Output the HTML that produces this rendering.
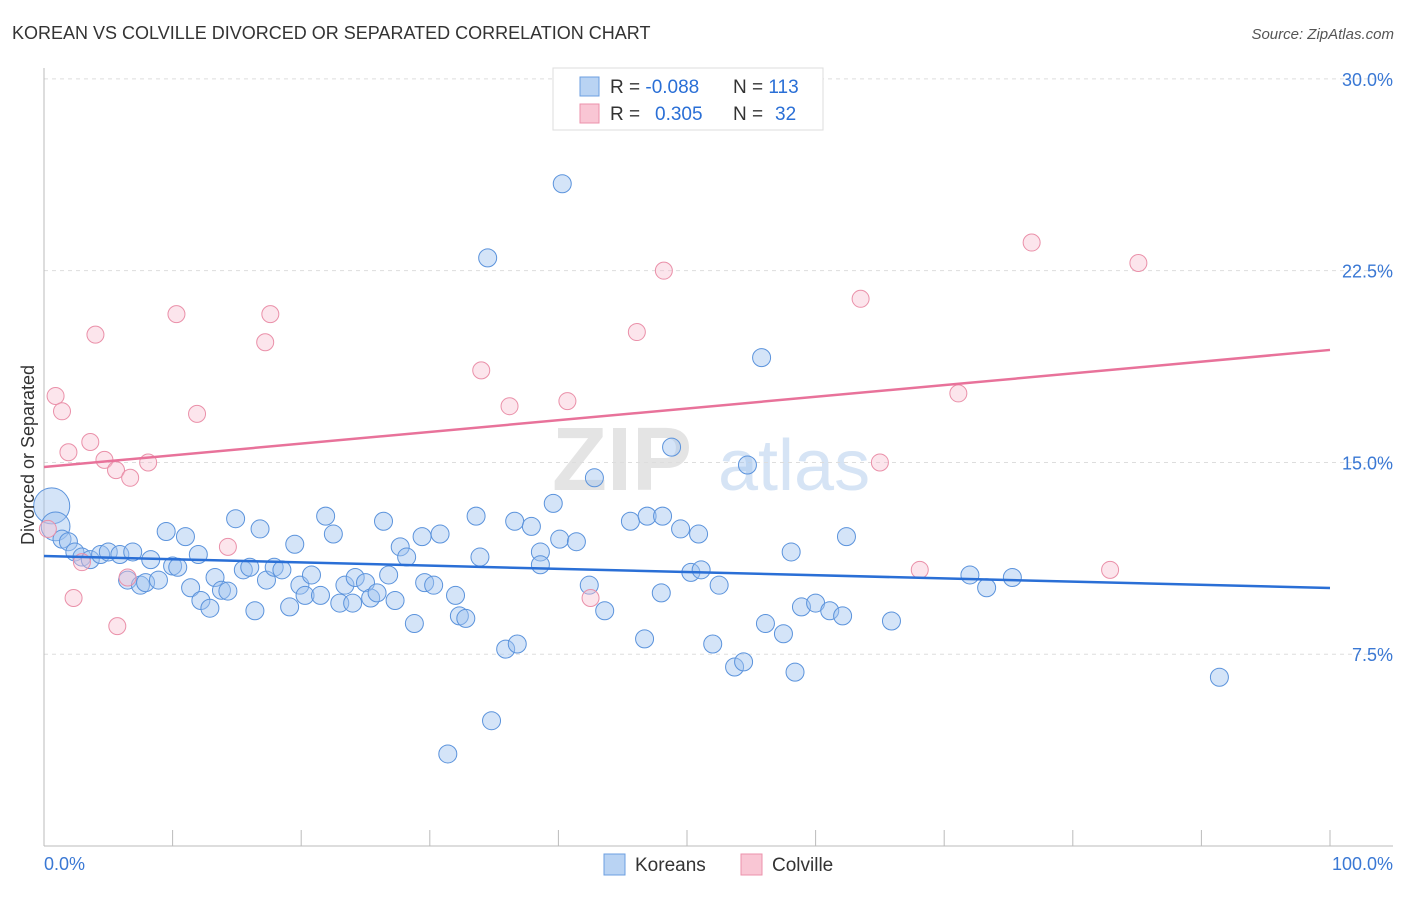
<!DOCTYPE html>
<html><head><meta charset="utf-8"><style>
body{margin:0;background:#fff;font-family:"Liberation Sans",sans-serif}
svg text{font-family:"Liberation Sans",sans-serif}
</style></head><body>
<svg id="chart" width="1406" height="892" viewBox="0 0 1406 892" xmlns="http://www.w3.org/2000/svg">
<text x="12" y="39" font-size="18" fill="#333">KOREAN VS COLVILLE DIVORCED OR SEPARATED CORRELATION CHART</text>
<text x="1394" y="39" font-size="15" fill="#555" font-style="italic" text-anchor="end">Source: ZipAtlas.com</text>
<g>
<text x="552" y="490" font-size="90" fill="#e4e4e4" font-family="Liberation Serif" font-weight="bold">ZIP</text>
<text x="718" y="490" font-size="72" fill="#d6e4f5">atlas</text>
</g>
<g id="grid"></g><g id="axes"></g><g id="marks"></g><g id="trends"></g>
<text transform="translate(34,455) rotate(-90)" font-size="18" fill="#333" text-anchor="middle">Divorced or Separated</text>
<text x="44" y="870" font-size="18" fill="#3a78d4">0.0%</text>
<text x="1393" y="870" font-size="18" fill="#3a78d4" text-anchor="end">100.0%</text>
<g>
<rect x="553" y="68" width="270" height="62" fill="#fff" stroke="#ddd"/>
<rect x="580" y="77" width="19" height="19" fill="#b9d3f3" stroke="#6c9fe0"/>
<rect x="580" y="104" width="19" height="19" fill="#f9c6d4" stroke="#ec92ab"/>
<text x="610" y="93" font-size="19" fill="#333">R = <tspan fill="#2a6fd6">-0.088</tspan><tspan x="733">N = </tspan><tspan fill="#2a6fd6">113</tspan></text>
<text x="610" y="120" font-size="19" fill="#333">R = <tspan x="655" fill="#2a6fd6">0.305</tspan><tspan x="733">N = </tspan><tspan x="775" fill="#2a6fd6">32</tspan></text>
</g>
<g>
<rect x="604" y="854" width="21" height="21" fill="#b9d3f3" stroke="#6c9fe0"/>
<text x="635" y="871" font-size="19" fill="#333">Koreans</text>
<rect x="741" y="854" width="21" height="21" fill="#f9c6d4" stroke="#ec92ab"/>
<text x="772" y="871" font-size="19" fill="#333">Colville</text>
</g>
</svg>
<script>
const yTicks=[7.5,15,22.5,30];
const yTickLabels=["7.5%","15.0%","22.5%","30.0%"];
const xTicks=[0,10,20,30,40,50,60,70,80,90,100];
const koreanX=[0.6,0.9,1.4,1.9,2.4,2.95,3.6,4.4,5.0,5.9,6.9,6.5,7.5,7.9,8.3,8.9,9.5,10.0,10.4,11.0,11.4,12.0,12.2,12.9,13.3,13.8,14.3,14.9,15.5,16.0,16.4,16.8,17.3,17.9,18.5,19.1,19.5,19.9,20.3,20.8,21.5,21.9,22.5,23.0,23.4,24.0,24.2,25.0,25.4,25.9,26.4,26.8,27.3,27.7,28.2,28.8,29.4,29.6,30.3,30.8,31.4,32.0,32.3,32.8,33.6,33.9,34.5,34.8,35.9,36.8,36.6,37.9,38.6,38.6,39.6,40.1,40.3,41.4,42.4,42.8,43.6,45.6,46.7,46.9,48.0,48.1,48.8,49.5,50.3,50.9,51.1,52.0,52.5,53.7,54.4,54.7,55.8,56.1,57.5,58.1,58.4,58.9,60.0,61.1,62.1,62.4,65.9,72.0,73.3,75.3,91.4];
const koreanY=[13.3,12.5,12.0,11.9,11.5,11.3,11.2,11.4,11.5,11.4,11.5,10.4,10.2,10.3,11.2,10.4,12.3,10.95,10.9,12.1,10.1,11.4,9.6,9.3,10.5,10.0,9.97,12.8,10.8,10.9,9.2,12.4,10.4,10.9,10.8,9.35,11.8,10.2,9.8,10.6,9.8,12.9,12.2,9.5,10.2,9.5,10.5,10.3,9.7,9.9,12.7,10.6,9.6,11.7,11.3,8.7,12.1,10.3,10.2,12.2,3.6,9.8,9.0,8.9,12.9,11.3,23.0,4.9,7.7,7.9,12.7,12.5,11.5,11.0,13.4,12.0,25.9,11.9,10.2,14.4,9.2,12.7,8.1,12.9,9.9,12.9,15.6,12.4,10.7,12.2,10.8,7.9,10.2,7.0,7.2,14.9,19.1,8.7,8.3,11.5,6.8,9.35,9.5,9.2,9.0,12.1,8.8,10.6,10.1,10.5,6.6];
const koreanSize=[2,1.6];
const colvilleX=[0.3,0.9,1.4,1.9,2.3,2.95,3.6,4.0,4.7,5.6,5.7,6.5,6.7,8.1,10.3,11.9,14.3,17.2,17.6,34.0,36.2,40.7,42.5,46.1,48.2,63.5,65.0,68.1,71.1,76.8,82.9,85.1];
const colvilleY=[12.4,17.6,17.0,15.4,9.7,11.1,15.8,20.0,15.1,14.7,8.6,10.5,14.4,15.0,20.8,16.9,11.7,19.7,20.8,18.6,17.2,17.4,9.7,20.1,22.5,21.4,15.0,10.8,17.7,23.6,10.8,22.8];
const koreanTrend=[11.34,10.09];
const colvilleTrend=[14.82,19.4];
const X0=44,X1=1330,YB=846,PXY=25.57;
const sx=v=>X0+(X1-X0)*v/100;
const sy=v=>YB-v*PXY;
const NS="http://www.w3.org/2000/svg";
function mk(tag,attrs,parent){const e=document.createElementNS(NS,tag);for(const k in attrs)e.setAttribute(k,attrs[k]);document.getElementById(parent).appendChild(e);return e;}
yTicks.forEach((t,i)=>{
 const l=mk('line',{x1:44,x2:1393,y1:sy(t),y2:sy(t),stroke:'#ddd','stroke-dasharray':'4,4'},'grid');
 
 
 const tx=mk('text',{x:1393,y:sy(t)+7,'font-size':18,fill:'#3a78d4','text-anchor':'end'},'grid');
 tx.textContent=yTickLabels[i];
 
 
});
const ya=mk('line',{x1:44,x2:44,y1:68,y2:846,stroke:'#bbb'},'axes');


const xa=mk('line',{x1:44,x2:1393,y1:846,y2:846,stroke:'#bbb'},'axes');


xTicks.forEach(t=>{
 const l=mk('line',{x1:sx(t),x2:sx(t),y1:830,y2:846,stroke:'#bbb'},'axes');
 
 
});
koreanX.forEach((x,i)=>{
 const r=9*(koreanSize[i]||1);
 const c=mk('circle',{cx:sx(x),cy:sy(koreanY[i]),r:r,fill:'rgba(160,196,240,0.45)',stroke:'#5b93dc','stroke-width':1},'marks');
 
 
});
colvilleX.forEach((x,i)=>{
 const c=mk('circle',{cx:sx(x),cy:sy(colvilleY[i]),r:8.5,fill:'rgba(248,190,208,0.4)',stroke:'#ea90a9','stroke-width':1},'marks');
 
 
});
const tb=mk('line',{x1:sx(0),x2:sx(100),y1:sy(koreanTrend[0]),y2:sy(koreanTrend[1]),stroke:'#2a6fd6','stroke-width':2.5},'trends');


const tp=mk('line',{x1:sx(0),x2:sx(100),y1:sy(colvilleTrend[0]),y2:sy(colvilleTrend[1]),stroke:'#e8729a','stroke-width':2.5},'trends');


</script>
</body></html>
